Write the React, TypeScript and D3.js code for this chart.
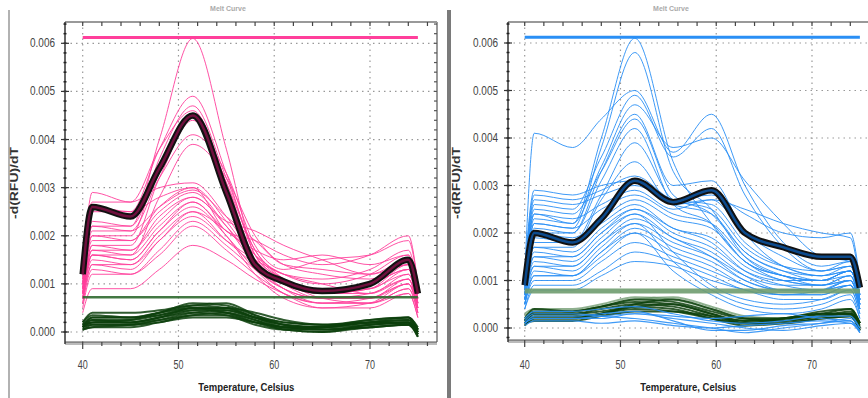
import { curveMonotoneX, format, line, range, scaleLinear } from 'd3';

// melt curves, values are -d(RFU)/dT in units of 1e-4
const leftTemps = [40, 41, 45, 48, 51.5, 55, 58, 61, 65, 70, 74, 75];
const rightTemps = [40, 41, 45, 48, 51.5, 55.5, 59.5, 63, 67, 71, 74, 75];

const xTickValues = [40, 50, 60, 70];
const yTickValues = [0, 0.001, 0.002, 0.003, 0.004, 0.005, 0.006];

const pinkCurves = [
  [10, 22, 22, 40, 61, 38, 16, 11, 9, 9, 13, 6],
  [11, 25, 25, 38, 49, 33, 16, 11, 8, 9, 14, 7],
  [9, 20, 20, 36, 47, 32, 17, 12, 10, 12, 16, 8],
  [12, 27, 27, 38, 46, 31, 15, 10, 8, 8, 12, 6],
  [10, 23, 22, 34, 45, 30, 14, 9, 7, 7, 11, 5],
  [8, 18, 18, 32, 44, 31, 17, 12, 11, 13, 17, 9],
  [9, 21, 21, 32, 41, 33, 18, 13, 15, 16, 19, 10],
  [7, 16, 16, 28, 39, 32, 20, 14, 12, 11, 14, 7],
  [12, 29, 27, 30, 31, 24, 16, 11, 9, 10, 13, 7],
  [11, 26, 25, 28, 30, 23, 15, 10, 7, 8, 11, 5],
  [10, 22, 21, 26, 29.5, 24, 19, 14, 13, 12, 15, 8],
  [9, 20, 19, 25, 29, 22, 14, 9, 6, 7, 10, 5],
  [8, 18, 17, 23, 28, 22, 15, 10, 8, 9, 12, 6],
  [8, 17, 16, 22, 27, 21, 17, 15, 16, 14, 16, 8],
  [7, 16, 15, 21, 26, 20, 13, 8, 6, 6, 9, 4],
  [7, 15, 14, 20, 25, 19, 14, 10, 9, 10, 13, 6],
  [6, 14, 13, 19, 24, 19, 15, 12, 10, 8, 11, 5],
  [6, 13, 12, 17, 23, 18, 13, 9, 7, 7, 10, 5],
  [5, 12, 12, 16, 22, 17, 12, 8, 5, 5, 8, 3],
  [4, 9, 9, 13, 18, 15, 11, 8, 6, 6, 9, 4],
  [9, 19, 19, 26, 30, 21, 19, 16, 14, 16, 20, 10],
  [8, 17, 17, 24, 28, 23, 21, 18, 15, 12, 14, 7],
  [7, 14, 14, 19, 25, 21, 16, 11, 7, 6, 8, 3],
  [8, 16, 15, 21, 27, 20, 12, 7, 5, 6, 10, 4],
];
const pinkMean = [12, 26, 24, 34, 45, 29, 14, 10.5, 8.5, 10, 15, 8];

const leftGreenCurves = [
  [1, 2, 2, 3, 5, 5, 3, 1.5, 1, 2, 2, 0],
  [1.5, 3, 3, 4, 6, 5.5, 3.5, 2, 1.5, 2, 2.5, 0.5],
  [2, 4, 4, 4.5, 5.5, 5, 3, 1, 0.5, 1.5, 2, -0.5],
  [1, 2.5, 2.5, 3.5, 4.5, 4, 2.5, 1, 1, 2, 2, 0],
  [1, 1.5, 1.5, 2.5, 4, 4.5, 3, 2, 1.5, 2.5, 3, 1],
  [0.5, 1.5, 1.5, 2, 3.5, 3.5, 2, 1, 0.5, 1, 1.5, -0.5],
  [2, 3.5, 3, 4, 5, 4.5, 3, 1.5, 1, 2, 3, 0.5],
  [1.5, 2, 2, 3, 4.5, 5, 4, 2.5, 1.5, 2, 2.5, 0],
  [1, 3, 3, 3.5, 5, 4, 2, 0.5, 0, 1.5, 2, -1],
  [0.5, 1, 1, 2, 3, 3, 2, 1, 1, 1.5, 2, 0],
  [1.5, 2.5, 2, 3, 4, 3.5, 1.5, 0.5, 1, 2.5, 3, 0.5],
  [1, 2, 2.5, 4, 5.5, 6, 3.5, 1.5, 0.5, 1, 1.5, -0.5],
  [0.5, 1, 1.5, 2.5, 3.5, 4, 2.5, 0.5, 0, 1, 1.5, -1],
];

const blueCurves = [
  [10, 24, 22, 40, 61, 35, 22, 14, 11, 10, 12, 6],
  [9, 22, 21, 38, 58, 33, 25, 15, 11, 10, 12, 6],
  [11, 41, 38, 44, 50, 37, 45, 30, 18, 13, 14, 7],
  [10, 26, 25, 36, 49, 36, 42, 28, 17, 12, 13, 7],
  [9, 23, 22, 34, 47, 38, 40, 31, 22, 15, 14, 7],
  [8, 21, 20, 33, 45, 30, 31, 20, 13, 11, 12, 6],
  [10, 25, 24, 33, 44, 28, 24, 16, 12, 11, 13, 7],
  [9, 20, 20, 31, 42, 26, 22, 14, 11, 10, 12, 6],
  [8, 18, 18, 28, 39, 27, 25, 17, 13, 12, 14, 7],
  [7, 17, 17, 27, 35, 26, 27, 20, 15, 12, 13, 6],
  [11, 28, 27, 29, 32, 27, 26, 18, 13, 11, 12, 6],
  [10, 27, 26, 28, 30, 26, 24, 16, 12, 10, 11, 5],
  [12, 29, 28, 30, 31, 27, 28, 24, 20, 19, 20, 10],
  [9, 24, 23, 26, 29, 25, 27, 25, 22, 20, 19, 9],
  [9, 22, 21, 25, 28, 24, 22, 15, 11, 9, 10, 5],
  [8, 20, 19, 23, 27, 23, 21, 14, 10, 9, 10, 5],
  [8, 19, 18, 22, 26, 21, 19, 13, 10, 9, 11, 5],
  [7, 17, 16, 21, 25, 21, 18, 12, 9, 8, 9, 4],
  [7, 16, 15, 20, 25, 20, 17, 12, 10, 10, 12, 6],
  [6, 15, 14, 19, 24, 19, 16, 11, 8, 8, 10, 5],
  [6, 14, 13, 18, 23, 19, 15, 10, 8, 8, 9, 4],
  [6, 13, 12, 17, 22, 18, 15, 11, 9, 9, 11, 5],
  [5, 12, 11, 16, 21, 17, 14, 10, 8, 8, 10, 4],
  [5, 11, 11, 15, 20, 16, 13, 9, 7, 7, 9, 4],
  [5, 10, 10, 14, 18, 15, 12, 9, 7, 8, 10, 5],
  [4, 9, 9, 12, 16, 14, 11, 8, 7, 7, 9, 4],
  [4, 8, 8, 11, 14, 13, 10, 8, 6, 6, 8, 3],
  [6, 13, 13, 18, 22, 14, 8, 5, 4, 5, 7, 2],
  [5, 11, 11, 16, 20, 12, 7, 4, 3, 4, 6, 2],
  [7, 15, 15, 20, 24, 16, 9, 6, 5, 6, 8, 3],
];
const blueNoiseCurves = [
  [1, 2, 2, 2, 3, 2, 1, 0, -0.5, 0.5, 1, -1],
  [1.5, 3, 3, 2.5, 2, 1, 0, -1, 0, 1, 2, 0],
  [0.5, 1.5, 1.5, 1, 1.5, 0.5, 0, 0.5, 1, 1.5, 1, -0.5],
  [1, 2.5, 2.5, 3, 3.5, 1.5, -0.5, -0.5, 0.5, 1, 1.5, -1],
  [2, 3.5, 3.5, 4, 4.5, 3, 1.5, 1, 1.5, 2.5, 2.5, 0],
  [1, 2, 2, 2.5, 3, 2.5, 2, 2.5, 3, 2, 1.5, -0.5],
];
const blueMean = [9, 20, 18, 23, 31, 26.5, 29, 20, 17, 15, 15, 8.5];

const rightGreenCurves = [
  [1, 3, 3, 3.5, 4.5, 4, 2, 1, 2, 3, 3, 0.5],
  [1.5, 3.5, 3.5, 4.5, 5.5, 5, 3, 1, 1.5, 2.5, 3.5, 1],
  [0.5, 2, 2, 3, 4, 3.5, 2, 0.5, 1, 2, 2.5, -0.5],
  [2, 4, 3.5, 4.5, 6, 5.5, 3.5, 2, 2, 3, 4, 1],
  [1, 2.5, 2.5, 3, 5, 6, 4, 2, 1.5, 2.5, 3, 0],
  [1, 1.5, 1.5, 2.5, 3.5, 3.5, 2.5, 1.5, 2, 3, 3, 0],
  [1.5, 3, 3, 4, 5, 4.5, 2.5, 1, 1, 2, 2.5, -0.5],
  [1, 2, 2, 3, 4.5, 5, 3, 1.5, 2, 3.5, 4, 1],
];
const rightLightGreenCurves = [
  [3, 4, 4, 5, 6.5, 6, 4, 2, 2, 2.5, 3, 1],
  [2.5, 3.5, 3.5, 4.5, 6, 6.5, 4.5, 2.5, 2, 2.5, 3, 1],
];

const upperThreshold = 0.00612;
const leftLowerThreshold = 0.00072;
const rightLowerThreshold = 0.00078;

const FONT = "'Liberation Sans', Arial, sans-serif";

type PanelProps = {
  temps: number[];
  x40: number;
  x70: number;
  y0: number;
  y6: number;
  fl: number;
  fr: number;
  ft: number;
  fb: number;
  color: string;
  meanCore: string;
  curves: number[][];
  extraCurves?: number[][];
  greens: number[][];
  lightGreens?: number[][];
  mean: number[];
  lowerThreshold: number;
  bandWidth: number;
  bandColor: string;
  titleX: number;
  yLabelX: number;
};

function Panel(p: PanelProps) {
  const x = scaleLinear().domain([40, 70]).range([p.x40, p.x70]);
  const y = scaleLinear().domain([0, 0.006]).range([p.y0, p.y6]);
  const gen = line<number>()
    .x((_, i) => x(p.temps[i]))
    .y((d) => y(d * 1e-4))
    .curve(curveMonotoneX);
  const fmt = format('.3f');
  const minorX = range(38, 80, 2).filter((t) => x(t) > p.fl + 1 && x(t) < p.fr - 1);
  const minorY = range(-4, 70, 2)
    .map((v) => v * 1e-4)
    .filter((v) => y(v) > p.ft + 1 && y(v) < p.fb - 1);
  const tMin = p.temps[0];
  const tMax = p.temps[p.temps.length - 1];

  return (
    <g>
      {/* panel title */}
      <text x={p.titleX} y={11} textAnchor="middle" fontSize={7} fontWeight="bold" fill="#aaa" fontFamily={FONT}>
        Melt Curve
      </text>
      {/* grid */}
      {xTickValues.map((t) => (
        <line key={'gx' + t} x1={x(t)} x2={x(t)} y1={p.ft} y2={p.fb} stroke="#999" strokeWidth={1.2} strokeDasharray="1.5,4" />
      ))}
      {yTickValues.map((v) => (
        <line key={'gy' + v} x1={p.fl} x2={p.fr} y1={y(v)} y2={y(v)} stroke="#999" strokeWidth={1.2} strokeDasharray="1.5,4" />
      ))}
      {/* curves */}
      {p.curves.map((c, i) => (
        <path key={'c' + i} d={gen(c) ?? ''} fill="none" stroke={p.color} strokeWidth={1} opacity={0.9} />
      ))}
      {(p.lightGreens ?? []).map((c, i) => (
        <path key={'lg' + i} d={gen(c) ?? ''} fill="none" stroke="#5f8f5f" strokeWidth={2} opacity={0.7} />
      ))}
      <line
        x1={x(tMin)}
        x2={x(tMax)}
        y1={y(p.lowerThreshold)}
        y2={y(p.lowerThreshold)}
        stroke={p.bandColor}
        strokeWidth={p.bandWidth}
        opacity={0.9}
      />
      {p.greens.map((c, i) => (
        <path key={'g' + i} d={gen(c) ?? ''} fill="none" stroke="#0c3f0c" strokeWidth={2} opacity={0.85} />
      ))}
      {(p.extraCurves ?? []).map((c, i) => (
        <path key={'e' + i} d={gen(c) ?? ''} fill="none" stroke={p.color} strokeWidth={1.2} opacity={0.9} />
      ))}
      <line x1={x(tMin)} x2={x(tMax)} y1={y(upperThreshold)} y2={y(upperThreshold)} stroke={p.color} strokeWidth={3} />
      {/* mean curve */}
      <path d={gen(p.mean) ?? ''} fill="none" stroke="#111" strokeWidth={6.5} strokeLinejoin="round" />
      <path d={gen(p.mean) ?? ''} fill="none" stroke={p.meanCore} strokeWidth={2.5} strokeLinejoin="round" />
      {/* frame */}
      <line x1={p.fl} x2={p.fr} y1={p.ft} y2={p.ft} stroke="#777" strokeWidth={1.5} />
      <line x1={p.fr} x2={p.fr} y1={p.ft} y2={p.fb} stroke="#999" strokeWidth={2} />
      <line x1={p.fl} x2={p.fr} y1={p.fb + 1.5} y2={p.fb + 1.5} stroke="#bbb" strokeWidth={3} />
      <line x1={p.fl} x2={p.fr} y1={p.fb} y2={p.fb} stroke="#555" strokeWidth={1.2} />
      <line x1={p.fl} x2={p.fl} y1={p.ft} y2={p.fb + 2} stroke="#333" strokeWidth={1.5} />
      {/* ticks */}
      {minorX.map((t) => (
        <g key={'tx' + t}>
          <line x1={x(t)} x2={x(t)} y1={p.fb} y2={p.fb + (t % 10 === 0 ? 7 : 4)} stroke="#444" strokeWidth={1.2} />
          <line x1={x(t)} x2={x(t)} y1={p.ft} y2={p.ft + 4} stroke="#444" strokeWidth={1.2} />
        </g>
      ))}
      {minorY.map((v) => (
        <g key={'ty' + v}>
          <line x1={p.fl - 1.5} x2={p.fl + 1.5} y1={y(v)} y2={y(v)} stroke="#222" strokeWidth={1.5} />
          <line x1={p.fr - 3} x2={p.fr} y1={y(v)} y2={y(v)} stroke="#555" strokeWidth={1.2} />
        </g>
      ))}
      {yTickValues.map((v) => (
        <g key={'yl' + v}>
          <line x1={p.fl - 4} x2={p.fl + 4} y1={y(v)} y2={y(v)} stroke="#333" strokeWidth={1.2} />
          <text
            x={p.fl - 10}
            y={y(v) + 4}
            textAnchor="end"
            fontSize={12}
            fill="#444"
            fontFamily={FONT}
            textLength={25}
            lengthAdjust="spacingAndGlyphs"
          >
            {fmt(v)}
          </text>
        </g>
      ))}
      {xTickValues.map((t) => (
        <text
          key={'xl' + t}
          x={x(t)}
          y={369}
          textAnchor="middle"
          fontSize={12}
          fill="#444"
          fontFamily={FONT}
          textLength={10}
          lengthAdjust="spacingAndGlyphs"
        >
          {t}
        </text>
      ))}
      {/* axis titles */}
      <text
        x={(p.x40 + p.x70) / 2 + 20}
        y={391}
        textAnchor="middle"
        fontSize={11}
        fontWeight="bold"
        fill="#222"
        fontFamily={FONT}
        textLength={96}
        lengthAdjust="spacingAndGlyphs"
      >
        Temperature, Celsius
      </text>
      <text
        transform={`translate(${p.yLabelX},183) rotate(-90)`}
        textAnchor="middle"
        fontSize={10}
        fontWeight="bold"
        fill="#333"
        fontFamily={FONT}
        textLength={72}
        lengthAdjust="spacingAndGlyphs"
      >
        -d(RFU)/dT
      </text>
    </g>
  );
}

export default function App() {
  return (
    <svg
      width={868}
      height={398}
      style={{ position: 'absolute', left: 0, top: 0, background: '#fff' }}
    >
      <rect width={868} height={398} fill="#fff" />
      <line x1={9} x2={9} y1={10} y2={398} stroke="#999" strokeWidth={1.5} />
      <Panel
        temps={leftTemps}
        x40={82.7}
        x70={370}
        y0={332}
        y6={43.3}
        fl={65}
        fr={437}
        ft={22}
        fb={342}
        color="#ff3f9b"
        meanCore="#6e0f3c"
        curves={pinkCurves}
        greens={leftGreenCurves}
        mean={pinkMean}
        lowerThreshold={leftLowerThreshold}
        bandWidth={2.5}
        bandColor="#2f6a2f"
        titleX={228}
        yLabelX={18}
      />
      <rect x={447} y={10} width={4} height={388} fill="#7a7a7a" />
      <Panel
        temps={rightTemps}
        x40={524.7}
        x70={812}
        y0={328}
        y6={43}
        fl={508}
        fr={880}
        ft={22}
        fb={340}
        color="#2a8ff5"
        meanCore="#0c4a8c"
        curves={blueCurves}
        extraCurves={blueNoiseCurves}
        greens={rightGreenCurves}
        lightGreens={rightLightGreenCurves}
        mean={blueMean}
        lowerThreshold={rightLowerThreshold}
        bandWidth={5}
        bandColor="#6f9d6f"
        titleX={671}
        yLabelX={460}
      />
    </svg>
  );
}
